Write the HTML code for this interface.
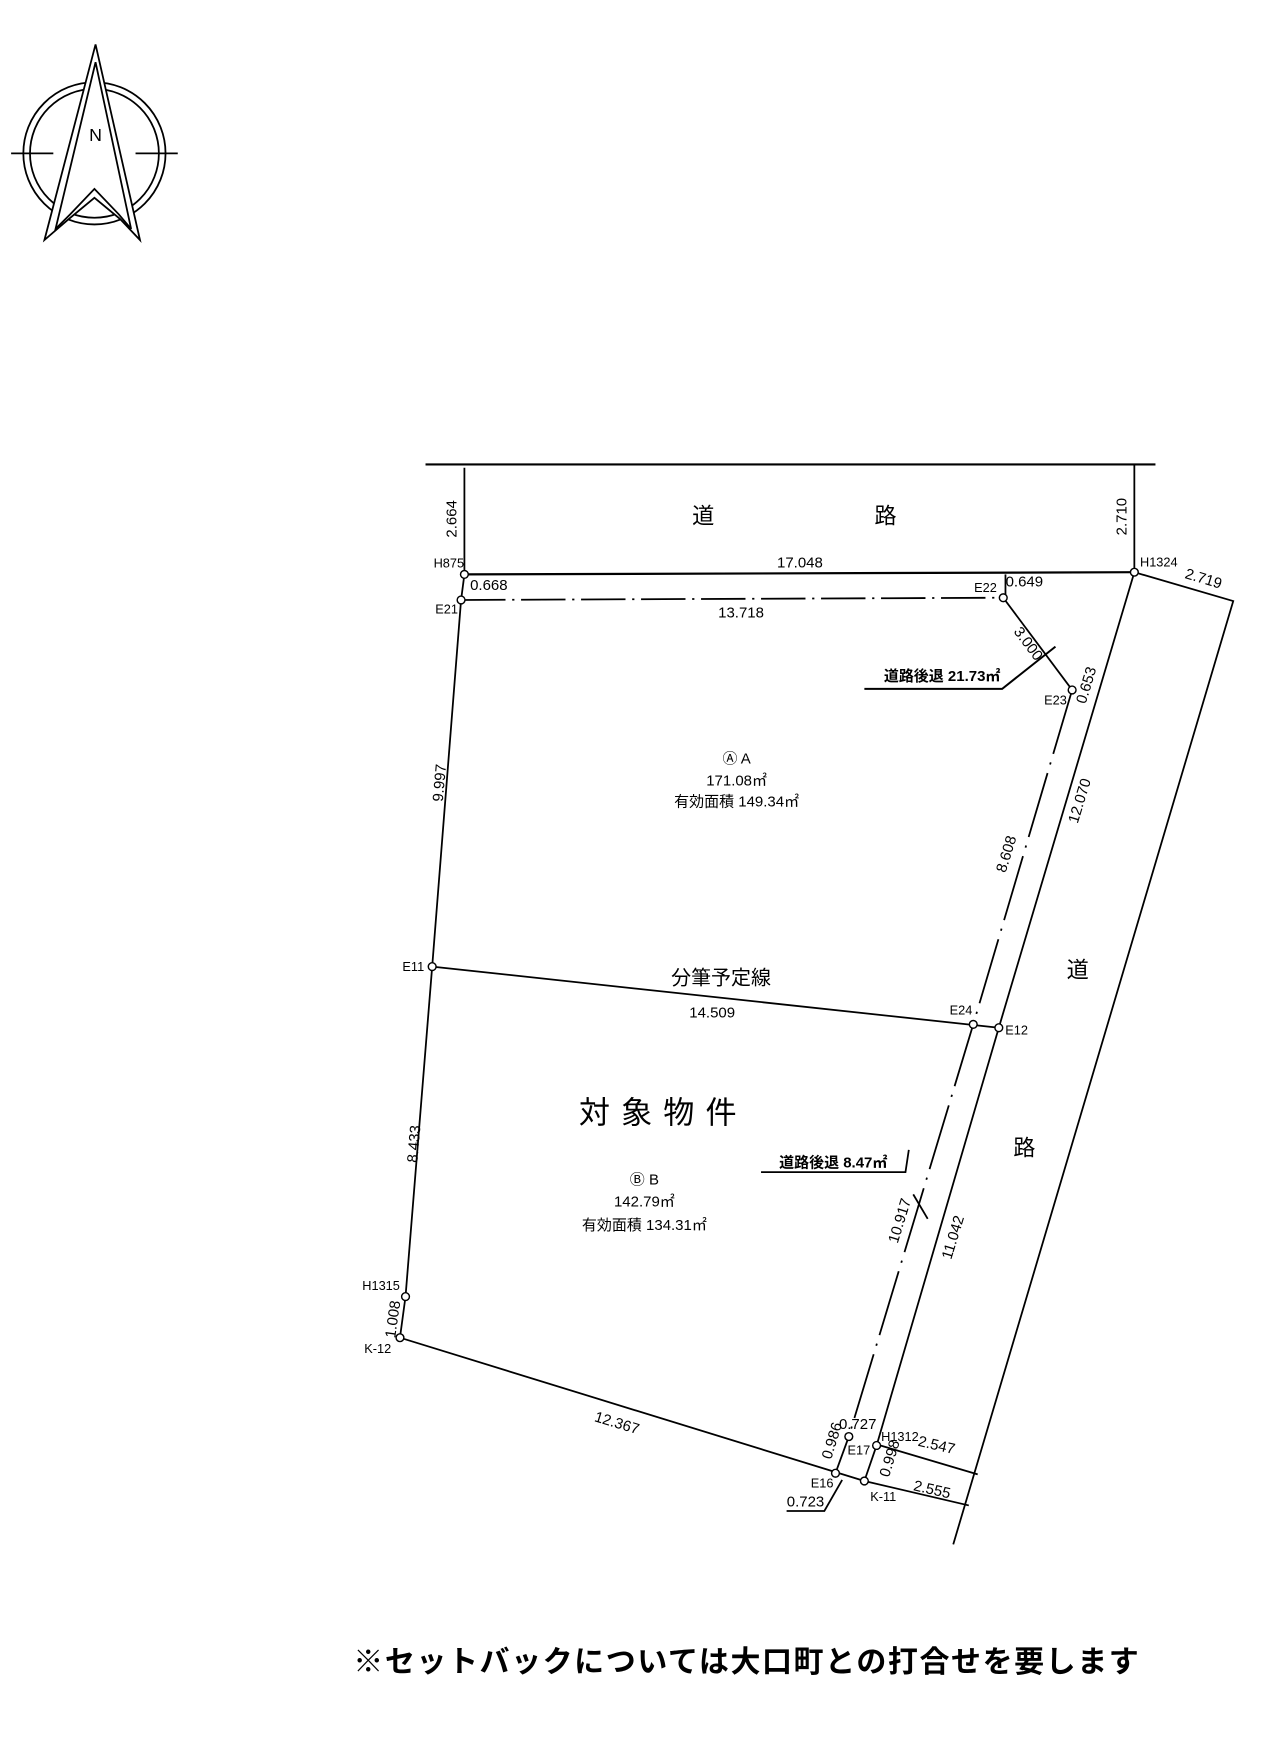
<!DOCTYPE html>
<html><head><meta charset="utf-8"><style>
html,body{margin:0;padding:0;background:#fff;}
svg{display:block}
text{font-family:"Liberation Sans","Noto Sans CJK JP",sans-serif;fill:#000}
.s{font-size:11.5px}
.m{font-size:13.5px}
</style></head><body>
<svg width="1274" height="1741" viewBox="0 0 1146.7 1567" xmlns="http://www.w3.org/2000/svg">
<g fill="none" stroke="#000" stroke-width="1.6">
<circle cx="85" cy="138" r="64"/>
<circle cx="85" cy="138" r="58"/>
<line x1="10" y1="138" x2="48" y2="138"/>
<line x1="122" y1="138" x2="160" y2="138"/>
<polygon points="86,40 40,216 62,197 85,178 108,197 126,216" fill="#fff"/>
<polygon points="86,56 50,206 63,193 85,170 107,193 118,206"/>
<line x1="383" y1="418" x2="1040" y2="418" stroke-width="2"/>
<line x1="418" y1="421" x2="418" y2="517"/>
<line x1="1021" y1="418" x2="1021" y2="515"/>
<line x1="418" y1="517" x2="1021" y2="515" stroke-width="2"/>
<line x1="418" y1="517" x2="415" y2="540"/>
<line x1="905" y1="517" x2="905" y2="538"/>
<line x1="415" y1="540" x2="903" y2="538" stroke-dasharray="40,6,2,6"/>
<line x1="903" y1="538" x2="965" y2="621"/>
<polyline points="778,620 902,620 950,582" stroke-width="1.8"/>
<polyline points="415,540 389,870 365,1167 360,1204 778,1333"/>
<polyline points="1021,515 899,925 789,1301 778,1333"/>
<polyline points="965,621 876,922 764,1293 752,1326" stroke-dasharray="60,8,2,8"/>
<line x1="389" y1="870" x2="899" y2="925"/>
<polyline points="1021,515 1110,541 858,1390"/>
<line x1="789" y1="1300" x2="880" y2="1327"/>
<line x1="778" y1="1333" x2="872" y2="1355"/>
<polyline points="685,1055 815,1055 818,1035"/>
<line x1="822" y1="1075" x2="835" y2="1097"/>
<polyline points="708,1360 742,1360 758,1332"/>
</g>
<g fill="#fff" stroke="#000" stroke-width="1.3">
<circle cx="418" cy="517" r="3.5"/><circle cx="415" cy="540" r="3.5"/>
<circle cx="1021" cy="515" r="3.5"/><circle cx="903" cy="538" r="3.5"/>
<circle cx="965" cy="621" r="3.5"/><circle cx="389" cy="870" r="3.5"/>
<circle cx="876" cy="922" r="3.5"/><circle cx="899" cy="925" r="3.5"/>
<circle cx="365" cy="1167" r="3.5"/><circle cx="360" cy="1204" r="3.5"/>
<circle cx="764" cy="1293" r="3.5"/><circle cx="789" cy="1301" r="3.5"/>
<circle cx="752" cy="1326" r="3.5"/><circle cx="778" cy="1333" r="3.5"/>
</g>
<text x="86" y="127" font-size="16" text-anchor="middle">N</text>
<text x="633" y="471" font-size="20" text-anchor="middle">道</text>
<text x="797" y="471" font-size="20" text-anchor="middle">路</text>
<text x="970" y="880" font-size="20" text-anchor="middle">道</text>
<text x="922" y="1040" font-size="20" text-anchor="middle">路</text>
<text class="m" x="720" y="511" text-anchor="middle">17.048</text>
<text class="m" transform="translate(411,467) rotate(-90)" text-anchor="middle">2.664</text>
<text class="m" transform="translate(1014,465) rotate(-90)" text-anchor="middle">2.710</text>
<text class="s" x="404" y="511" text-anchor="middle">H875</text>
<text class="s" x="1043" y="510" text-anchor="middle">H1324</text>
<text class="m" transform="translate(1082,525) rotate(17)" text-anchor="middle">2.719</text>
<text class="m" x="440" y="531" text-anchor="middle">0.668</text>
<text class="m" x="667" y="556" text-anchor="middle">13.718</text>
<text class="s" x="402" y="552" text-anchor="middle">E21</text>
<text class="s" x="887" y="533" text-anchor="middle">E22</text>
<text class="m" x="922" y="528" text-anchor="middle">0.649</text>
<text class="m" transform="translate(922,582) rotate(53)" text-anchor="middle">3.000</text>
<text class="m" x="848" y="613" text-anchor="middle" font-weight="bold">道路後退 21.73㎡</text>
<text class="m" transform="translate(982,618) rotate(-73)" text-anchor="middle">0.653</text>
<text class="s" x="950" y="634" text-anchor="middle">E23</text>
<text class="m" transform="translate(400,705) rotate(-85)" text-anchor="middle">9.997</text>
<text class="m" transform="translate(976,722) rotate(-73)" text-anchor="middle">12.070</text>
<text class="m" transform="translate(910,770) rotate(-73)" text-anchor="middle">8.608</text>
<text class="m" x="663" y="687" text-anchor="middle">Ⓐ  A</text>
<text class="m" x="663" y="707" text-anchor="middle">171.08㎡</text>
<text class="m" x="663" y="726" text-anchor="middle">有効面積 149.34㎡</text>
<text class="s" x="372" y="874" text-anchor="middle">E11</text>
<text x="649" y="886" font-size="18" text-anchor="middle">分筆予定線</text>
<text class="m" x="641" y="916" text-anchor="middle">14.509</text>
<text class="s" x="865" y="913" text-anchor="middle">E24</text>
<text class="s" x="915" y="931" text-anchor="middle">E12</text>
<text x="597" y="1011" font-size="28" text-anchor="middle" letter-spacing="10">対象物件</text>
<text class="m" x="750" y="1051" text-anchor="middle" font-weight="bold">道路後退 8.47㎡</text>
<text class="m" x="580" y="1066" text-anchor="middle">Ⓑ  B</text>
<text class="m" x="580" y="1086" text-anchor="middle">142.79㎡</text>
<text class="m" x="580" y="1107" text-anchor="middle">有効面積 134.31㎡</text>
<text class="m" transform="translate(377,1030) rotate(-85)" text-anchor="middle">8.433</text>
<text class="m" transform="translate(814,1100) rotate(-73)" text-anchor="middle">10.917</text>
<text class="m" transform="translate(862,1115) rotate(-73)" text-anchor="middle">11.042</text>
<text class="s" x="343" y="1161" text-anchor="middle">H1315</text>
<text class="m" transform="translate(358,1188) rotate(-82)" text-anchor="middle">1.008</text>
<text class="s" x="340" y="1218" text-anchor="middle">K-12</text>
<text class="m" transform="translate(554,1285) rotate(17)" text-anchor="middle">12.367</text>
<text class="m" x="772" y="1286" text-anchor="middle">0.727</text>
<text class="s" x="810" y="1297" text-anchor="middle">H1312</text>
<text class="s" x="773" y="1309" text-anchor="middle">E17</text>
<text class="m" transform="translate(753,1298) rotate(-73)" text-anchor="middle">0.986</text>
<text class="m" transform="translate(805,1314) rotate(-73)" text-anchor="middle">0.998</text>
<text class="m" transform="translate(842,1305) rotate(13)" text-anchor="middle">2.547</text>
<text class="m" transform="translate(838,1345) rotate(13)" text-anchor="middle">2.555</text>
<text class="s" x="740" y="1339" text-anchor="middle">E16</text>
<text class="m" x="725" y="1356" text-anchor="middle">0.723</text>
<text class="s" x="795" y="1351" text-anchor="middle">K-11</text>
<text x="318" y="1505" font-size="27" font-weight="bold" textLength="707" lengthAdjust="spacing">※セットバックについては大口町との打合せを要します</text>
</svg>
</body></html>
